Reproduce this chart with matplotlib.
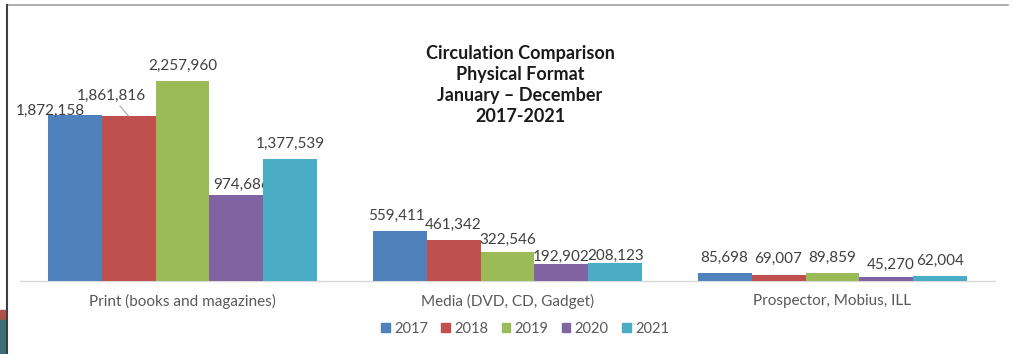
import matplotlib
matplotlib.use("Agg")
import matplotlib.pyplot as plt
from matplotlib.lines import Line2D
from matplotlib.patches import Rectangle
import numpy as np

categories = ["Print (books and magazines)", "Media (DVD, CD, Gadget)", "Prospector, Mobius, ILL"]
years = ["2017", "2018", "2019", "2020", "2021"]
values = {
    "2017": [1872158, 559411, 85698],
    "2018": [1861816, 461342, 69007],
    "2019": [2257960, 322546, 89859],
    "2020": [974686, 192902, 45270],
    "2021": [1377539, 208123, 62004],
}
colors = ["#4F81BD", "#C0504D", "#9BBB59", "#8064A2", "#4BACC6"]
title_lines = "Circulation Comparison\nPhysical Format\nJanuary \u2013 December\n2017-2021"

# label offsets in pixels (dx, dy) per year/category
offsets = {
    "2017": [(-24, -3), (-3, 9), (0, 9)],
    "2018": [(-17, 13), (0, 8), (0, 9)],
    "2019": [(0, 8), (0, 6), (0, 8)],
    "2020": [(5, 3), (0, 0), (4, 5)],
    "2021": [(0, 8), (0, 0), (0, 8)],
}

W, H = 1013, 354
fig = plt.figure(figsize=(W / 100, H / 100), dpi=100)
fig.patch.set_facecolor("white")
ax = fig.add_axes([20 / W, (H - 281) / H, 975 / W, 251 / H])

x = np.arange(len(categories))
bw = 0.166
for i, (yr, col) in enumerate(zip(years, colors)):
    xs = x + (i - 2) * bw
    ax.bar(xs, values[yr], width=bw, color=col, label=yr, zorder=3)
    for j, (xx, v) in enumerate(zip(xs, values[yr])):
        dx, dy = offsets[yr][j]
        kw = {}
        if yr == "2018" and j == 0:
            kw["arrowprops"] = dict(arrowstyle="-", color="#A6A6A6", lw=0.8,
                                    shrinkA=0, shrinkB=0)
        ax.annotate(f"{v:,}", (xx, v), xytext=(dx, dy), textcoords="offset pixels",
                    ha="center", va="bottom", fontsize=11, color="#404040",
                    family="Lato", **kw)

ax.set_xlim(-0.5, 2.5)
ax.set_ylim(0, 2257960 * 251 / 200)
ax.set_yticks([])
ax.set_xticks(x)
ax.set_xticklabels(categories, fontsize=11, color="#595959", family="Lato")
ax.tick_params(axis="x", length=0, pad=9)
for s in ["top", "right", "left"]:
    ax.spines[s].set_visible(False)
ax.spines["bottom"].set_color("#D9D9D9")
ax.spines["bottom"].set_linewidth(1.0)

fig.text(520 / W, 1 - 85 / H, title_lines, ha="center", va="center", fontsize=13,
         fontweight="bold", family="Lato", color="#1A1A1A", linespacing=1.3)

handles = [Rectangle((0, 0), 1, 1, color=c) for c in colors]
fig.legend(handles, years, loc="center", bbox_to_anchor=(525 / W, 1 - 329 / H),
           ncol=5, frameon=False, handlelength=0.6, handleheight=0.6,
           handletextpad=0.3, columnspacing=0.9, prop={"family": "Lato", "size": 10.5},
           labelcolor="#595959")

# outer frame edges
fig.add_artist(Line2D([7 / W, 1008 / W], [1 - 5 / H, 1 - 5 / H], color="#A0A0A0", lw=1.2))
fig.add_artist(Line2D([7 / W, 7 / W], [1 - 5 / H, 0], color="#404040", lw=1.5))
fig.add_artist(Rectangle((0, 1 - 320 / H), 6 / W, 10 / H, color="#B0504A", transform=fig.transFigure))
fig.add_artist(Rectangle((0, 0), 6 / W, 34 / H, color="#3E6E78", transform=fig.transFigure))

fig.savefig("out.png", dpi=100)
